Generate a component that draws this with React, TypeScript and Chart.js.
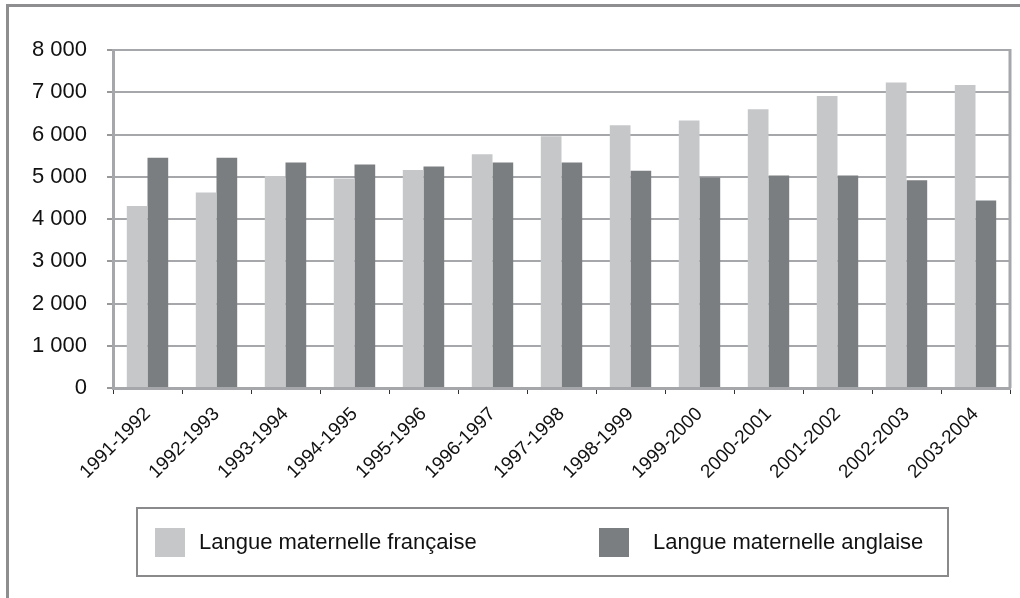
import React, { useEffect, useRef } from "react";
import { Chart, registerables } from "chart.js";

Chart.register(...registerables);

const categories = [
  "1991-1992", "1992-1993", "1993-1994", "1994-1995", "1995-1996", "1996-1997", "1997-1998",
  "1998-1999", "1999-2000", "2000-2001", "2001-2002", "2002-2003", "2003-2004",
];
const francaise = [4310, 4630, 5020, 4960, 5160, 5530, 5960, 6220, 6330, 6600, 6910, 7230, 7170];
const anglaise = [5450, 5450, 5340, 5290, 5240, 5340, 5340, 5140, 4980, 5030, 5030, 4920, 4440];
const seriesLabels = ["Langue maternelle française", "Langue maternelle anglaise"];
const yTickValues = [0, 1000, 2000, 3000, 4000, 5000, 6000, 7000, 8000];
const yTickLabels = ["0", "1 000", "2 000", "3 000", "4 000", "5 000", "6 000", "7 000", "8 000"];

const LIGHT = "#c6c7c9";
const DARK = "#7b7e81";
const GRID = "#a6a7aa";
const FONT = "'Liberation Sans', Arial, sans-serif";

const framePlugin = {
  id: "framePlugin",
  afterDraw(chart: any) {
    const { ctx, chartArea: a } = chart;
    ctx.save();
    ctx.strokeStyle = GRID;
    ctx.lineWidth = 3;
    ctx.beginPath();
    ctx.moveTo(a.right, a.top - 1);
    ctx.lineTo(a.right, a.bottom);
    ctx.stroke();
    ctx.restore();
  },
};

export default function App() {
  const ref = useRef<HTMLCanvasElement>(null);
  useEffect(() => {
    if (!ref.current) return;
    Chart.defaults.font.family = FONT;
    const chart = new Chart(ref.current, {
      type: "bar",
      data: {
        labels: categories,
        datasets: [
          { label: seriesLabels[0], data: francaise, backgroundColor: LIGHT, borderWidth: 0 },
          { label: seriesLabels[1], data: anglaise, backgroundColor: DARK, borderWidth: 0 },
        ],
      },
      options: {
        animation: false,
        responsive: true,
        maintainAspectRatio: false,
        layout: { padding: { left: 20, right: 10, top: 50, bottom: 110 } },
        datasets: { bar: { categoryPercentage: 0.6, barPercentage: 1.0 } },
        plugins: {
          tooltip: { enabled: false },
          legend: { display: false },
        },
        scales: {
          x: {
            grid: {
              offset: true,
              drawOnChartArea: false,
              drawTicks: true,
              tickLength: 6,
              tickColor: "#333",
              tickWidth: 1,
            },
            border: { display: true, color: GRID, width: 3 },
            ticks: {
              autoSkip: false,
              minRotation: 45,
              maxRotation: 45,
              color: "#111",
              font: { size: 19 },
              padding: 9,
            },
            afterFit: (s: any) => {
              s.height = 100;
            },
          },
          y: {
            min: 0,
            max: 8000,
            afterBuildTicks: (s: any) => {
              s.ticks = yTickValues.map((v) => ({ value: v }));
            },
            grid: {
              color: GRID,
              lineWidth: 2,
              tickLength: 6,
              tickColor: "#333",
              tickWidth: 1,
            },
            border: { display: true, color: GRID, width: 3 },
            ticks: {
              color: "#111",
              font: { size: 22 },
              padding: 20,
              callback: (_v: any, i: number) => yTickLabels[i],
            },
            afterFit: (s: any) => {
              s.width = 93;
            },
          },
        },
      },
      plugins: [framePlugin],
    });
    return () => chart.destroy();
  }, []);

  const legendColors = [LIGHT, DARK];

  return (
    <div style={{ position: "fixed", left: 0, top: 0, width: 1020, height: 598, background: "#fff", fontFamily: FONT }}>
      <div
        style={{
          position: "absolute",
          left: 6,
          top: 4,
          width: 1100,
          height: 700,
          borderLeft: "3px solid #8e8e90",
          borderTop: "3px solid #8e8e90",
        }}
      />
      <div style={{ position: "absolute", left: 0, top: 0, width: 1020, height: 598 }}>
        <canvas ref={ref} />
      </div>
      <div
        style={{
          position: "absolute",
          left: 136,
          top: 507,
          width: 792,
          height: 66,
          border: "2.5px solid #8a8a8c",
          display: "flex",
          alignItems: "center",
          paddingLeft: 17,
          boxSizing: "content-box",
        }}
      >
        {seriesLabels.map((lab, i) => (
          <div key={lab} style={{ display: "flex", alignItems: "center", width: i === 0 ? 444 : "auto" }}>
            <span
              style={{
                display: "inline-block",
                width: 30,
                height: 29,
                background: legendColors[i],
                marginRight: i === 0 ? 14 : 24,
              }}
            />
            <span style={{ fontSize: 22, color: "#111", whiteSpace: "nowrap" }}>{lab}</span>
          </div>
        ))}
      </div>
    </div>
  );
}
